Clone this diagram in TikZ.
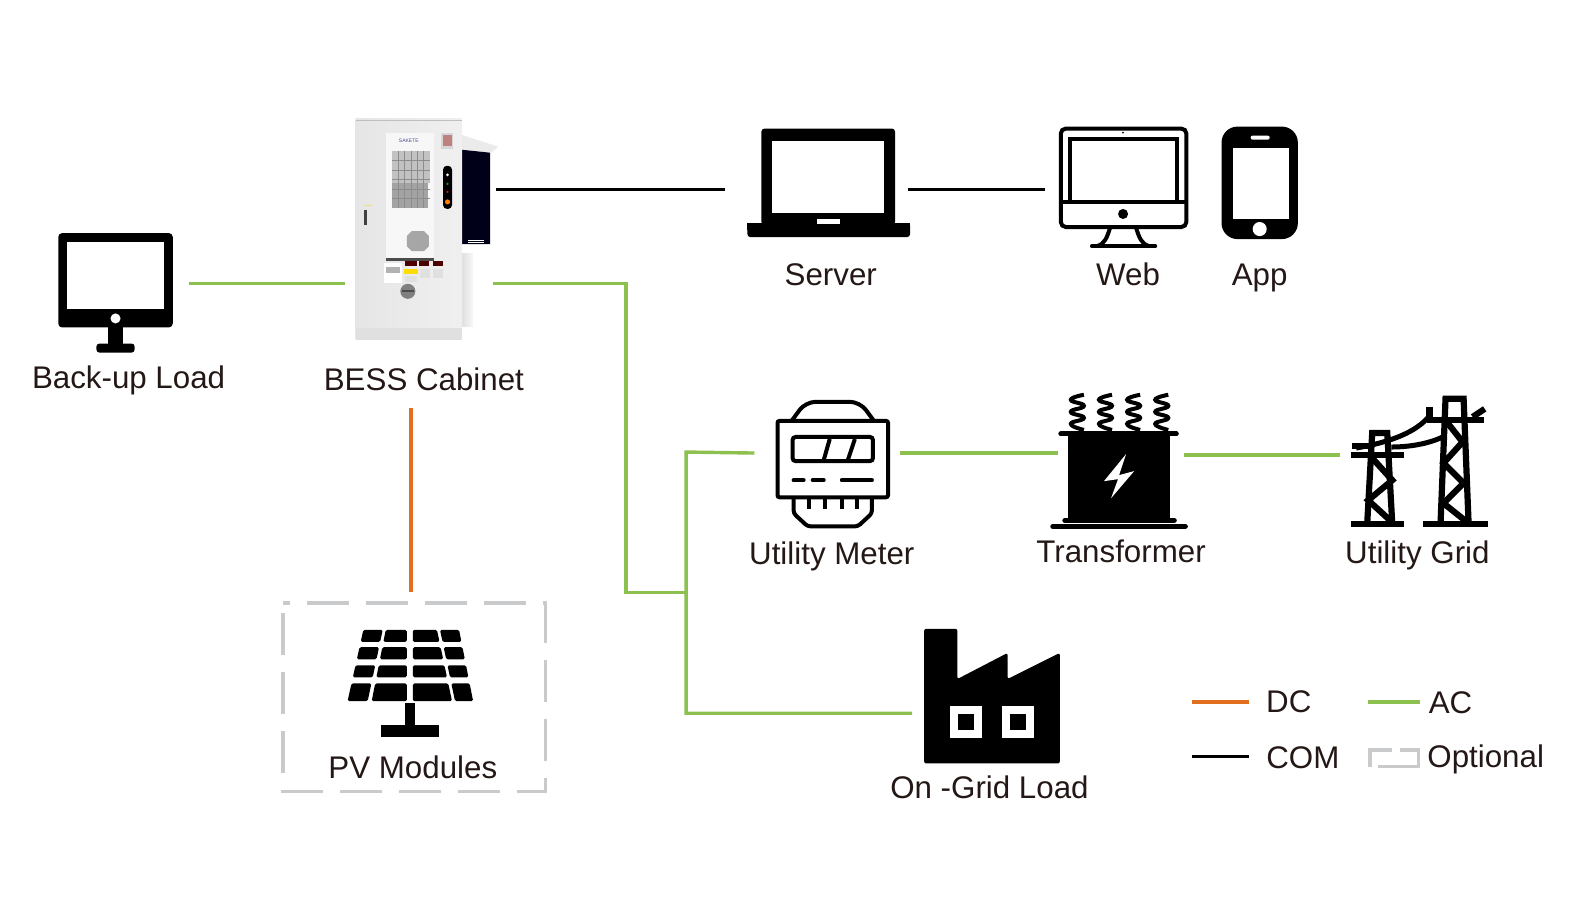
\documentclass[tikz,border=0pt]{standalone}
\usepackage{fontspec}
\setmainfont{Liberation Sans}
\usepackage{amsmath}
\definecolor{acgreen}{HTML}{8CC04F}
\definecolor{dcorange}{HTML}{E0701F}
\definecolor{optgray}{HTML}{C9CACC}
\definecolor{labelcol}{HTML}{231815}
\tikzset{
	aclink/.style={line width=3.4pt, acgreen},
	dclink/.style={line width=3.4pt, dcorange},
	comlink/.style={line width=3.2pt, black},
	optline/.style={line width=3.8pt, optgray},
	lab/.style={anchor=base, inner sep=0pt, text=labelcol, font=\fontsize{31.3}{36}\selectfont},
	icon/.style={line width=4pt, black},
	tower/.style={line width=6.2pt, black},
}
\begin{document}
\begin{tikzpicture}[x=1.0045pt,y=-1.0045pt]
	\useasboundingbox (0,0) rectangle (1567.9,906.9);
	% connector ends
	\coordinate (bessCom) at (494,189);
	\coordinate (serverIn) at (722,189);
	\coordinate (serverOut) at (904,189);
	\coordinate (webIn) at (1040,189);
	\coordinate (backupIn) at (188,282);
	\coordinate (bessLeft) at (343,282);
	\coordinate (bessRight) at (491,282);
	\coordinate (bend) at (623,590);
	\coordinate (junction) at (683,590);
	\coordinate (meterIn) at (751,451);
	\coordinate (factoryIn) at (908,710);
	\coordinate (meterOut) at (896,451);
	\coordinate (transIn) at (1053,451);
	\coordinate (transOut) at (1179,453);
	\coordinate (gridIn) at (1334,453);
	\coordinate (bessDown) at (409,406);
	\coordinate (pvUp) at (409,589);
	\coordinate (dcA) at (1187,699);
	\coordinate (dcB) at (1243,699);
	\coordinate (acA) at (1362,699);
	\coordinate (acB) at (1414,699);
	\coordinate (comA) at (1187,753);
	\coordinate (comB) at (1243,753);

	\draw [comlink] (bessCom) -- (serverIn);
	\draw [comlink] (serverOut) -- (webIn);
	\draw [aclink] (backupIn) -- (bessLeft);
	\draw [aclink] (bessRight) -| (bend) -- (junction);
	\draw [aclink] (meterIn) -- (683,450) -- (junction) |- (factoryIn);
	\draw [aclink] (meterOut) -- (transIn);
	\draw [aclink] (transOut) -- (gridIn);
	\draw [dclink] (bessDown) -- (pvUp);

	% back-up load
	\fill [rounded corners=4pt] (58,232) rectangle (172,326);
	\fill [white] (67,241) rectangle (163,308);
	\fill [white] (115,317) circle (5);
	\fill (108,326) rectangle (122,345);
	\fill [rounded corners=3pt] (96,342) rectangle (134,351);

	% cabinet
	\fill [left color=black!12, right color=black!3] (460,252) rectangle (471,325);
	\fill [black!8] (459,134) -- (496,146) -- (489,152) -- (459,149) -- cycle;
	\fill [black!90!blue] (459,149) -- (488,152) -- (488,243) -- (459,243) -- cycle;
	\foreach \y in {239,241}{
		\draw [white, thin] (466,\y) -- (482,\y);
	}
	\draw [black!30] (364,118) arc (180:0:2.5);
	\draw [black!30] (447,118) arc (180:0:2.5);
	\fill [left color=black!10, right color=black!6] (354,118) rectangle (460,338);
	\fill [black!12] (354,327) rectangle (460,338);
	\draw [black!25, thin] (354,120) -- (460,120);
	\fill [black!3] (384,132) rectangle (432,257);
	\fill [black!24] (390,150) rectangle (428,182);
	\fill [black!36] (390,182) rectangle (426,207);
	\foreach \i in {1,...,5}{
		\draw [black!45, ultra thin] (390+6.3*\i,150) -- (390+6.3*\i,207);
		\draw [black!45, ultra thin] (390,150+9.5*\i) -- (428,150+9.5*\i);
	}
	\node (logo) at (407,140) [inner sep=0pt, text=blue!40!black!70, font=\fontsize{5}{6}\selectfont] {SAKETE};
	\fill [black!35] (410,230) -- (422,230) -- (427,235) -- (427,245) -- (422,250) -- (410,250) -- (405,245) -- (405,235) -- cycle;
	\fill [black!70] (384,257) rectangle (432,260);
	\fill [black!16] (439,132) rectangle (451,148);
	\fill [red!50!black!50!white] (441,134) rectangle (450,145);
	\fill [black, rounded corners=4pt] (441,165) rectangle (450,208);
	\fill [white] (445.5,174) circle (1.5);
	\fill [green!70!black] (445.5,183) circle (1.2);
	\fill [red] (445.5,191) circle (1.2);
	\fill [orange] (445.5,201) circle (2.5);
	\fill [black!75] (362,209) rectangle (365,224);
	\draw [yellow!70!orange] (363,205) -- (370,204);
	\fill [white] (382,262) rectangle (400,282);
	\fill [black!30] (384,266) rectangle (398,272);
	\fill [yellow!80!orange] (402,268) rectangle (416,273);
	\fill [red!30!black] (403,260) rectangle (415,265);
	\fill [red!30!black] (417,260) rectangle (427,265);
	\fill [red!30!black] (431,260) rectangle (441,265);
	\fill [black!12] (403,275) rectangle (415,281);
	\fill [black!12] (418,268) rectangle (428,277);
	\fill [black!12] (431,268) rectangle (441,277);
	\fill [black!50] (406,290) circle (7.5);
	\fill [black!70] (400,289) rectangle (412,291);

	% server
	\fill [rounded corners=3pt] (758,128) rectangle (891,224);
	\fill [white] (769,140) rectangle (880,212);
	\fill [rounded corners=3pt] (744,222) rectangle (906,236);
	\fill (744,222) rectangle (906,229);
	\fill [white] (813,218) rectangle (836,223);

	% web
	\draw [icon, rounded corners=5pt] (1056,128) rectangle (1181,226);
	\draw [icon] (1065,138) rectangle (1172,201);
	\draw [icon] (1056,201) -- (1181,201);
	\fill (1118,213) circle (5);
	\fill (1118,132) circle (1);
	\draw [icon] (1105,227) .. controls (1102,236) and (1100,243) .. (1092,245);
	\draw [icon] (1131,227) .. controls (1134,236) and (1136,243) .. (1144,245);
	\draw [icon, line cap=round] (1087,245) -- (1150,245);

	% app
	\fill [rounded corners=16pt] (1216,126) rectangle (1292,238);
	\fill [white] (1227,147) rectangle (1283,218);
	\fill [white, rounded corners=2pt] (1245,135) rectangle (1264,139);
	\fill [white] (1254,228) circle (7);

	% meter
	\draw [icon, rounded corners=2pt] (774,419) rectangle (884,495);
	\draw [icon, rounded corners=10pt] (788,419) -- (802,400) -- (856,400) -- (870,419);
	\draw [icon, rounded corners=3pt] (789,435) rectangle (869,459);
	\draw [icon] (826,437) -- (820,458);
	\draw [icon] (851,437) -- (844,458);
	\draw [icon, line cap=round] (790,478) -- (800,478);
	\draw [icon, line cap=round] (809,478) -- (820,478);
	\draw [icon, line cap=round] (838,478) -- (868,478);
	\draw [icon, rounded corners=3pt] (790,495) -- (790,511) -- (804,524) -- (854,524) -- (868,511) -- (868,495);
	\foreach \x in {805,821,838,853}{
		\draw [icon] (\x,495) -- (\x,507);
	}

	% transformer
	\fill (1063,431) rectangle (1165,520);
	\draw [line width=5pt, line cap=round] (1056,432) -- (1171,432);
	\draw [line width=5pt, line cap=round] (1060,518) -- (1169,518);
	\draw [line width=5pt, line cap=round] (1048,524) -- (1180,524);
	\foreach \x in {1072,1100,1128,1156}{
		\draw [line width=4pt] plot [smooth, tension=0.9] coordinates {(\x+7,393) (\x-6,398) (\x+7,404) (\x-6,410) (\x+7,416) (\x-6,422) (\x+7,428)};
	}
	\fill [white] (1121,452) -- (1099,479) -- (1113,477) -- (1106,496) -- (1129,469) -- (1114,473) -- cycle;

	% utility grid
	\draw [tower] (1345,522) -- (1398,522);
	\draw [tower] (1361,522) -- (1366,431) -- (1381,431) -- (1386,522);
	\draw [tower] (1345,453) -- (1398,453);
	\draw [tower] (1346,444) -- (1368,444);
	\draw [tower] (1366,456) -- (1386,478) -- (1362,498) -- (1386,520);
	\draw [tower] (1417,522) -- (1481,522);
	\draw [tower] (1434,522) -- (1439,397) -- (1457,397) -- (1462,522);
	\draw [tower] (1421,418) -- (1477,418);
	\draw [tower] (1466,415) -- (1478,407);
	\draw [tower] (1423,405) -- (1423,416);
	\draw [tower] (1441,421) -- (1456,440) -- (1437,461) -- (1457,481) -- (1437,501) -- (1462,521);
	\draw [line width=5pt] (1350,446) .. controls (1385,440) and (1410,430) .. (1423,414);
	\draw [line width=5pt] (1385,445) .. controls (1405,445) and (1425,441) .. (1438,434);

	% on-grid load
	\fill [rounded corners=2pt] (920,626) -- (953,626) -- (953,676) -- (1003,650) -- (1003,676) -- (1055,650) -- (1055,760) -- (920,760) -- cycle;
	\foreach \x in {946,997}{
		\draw [white, line width=8pt] (\x+4,707) rectangle (\x+28,731);
	}

	% pv modules
	\draw [optline, dash pattern=on 42pt off 17pt, dash phase=35pt] (282,600) -- (543,600) -- (543,788) -- (282,788) -- cycle;
	\foreach \ya/\yb in {627/639, 644.3/656.3, 662.3/674.3, 680.3/698}{
		\foreach \ta/\tb/\ba/\bb in {-46.3/-27/-62/-42, -24/-3/-38/-3, 3/27/3/42, 30/49/45/63}{
			\fill [rounded corners=1.5pt] ({408+\ta+(\ba-\ta)*(\ya-627)/71},\ya) -- ({408+\tb+(\bb-\tb)*(\ya-627)/71},\ya) -- ({408+\tb+(\bb-\tb)*(\yb-627)/71},\yb) -- ({408+\ta+(\ba-\ta)*(\yb-627)/71},\yb) -- cycle;
		}
	}
	\fill (403,700) rectangle (413,722);
	\fill (379,722) rectangle (437,734);

	% labels
	\node (backupLab) at (128,387) [lab] {Back-up Load};
	\node (bessLab) at (422,389) [lab] {BESS Cabinet};
	\node (serverLab) at (827,284) [lab] {Server};
	\node (webLab) at (1123,284) [lab] {Web};
	\node (appLab) at (1254,284) [lab] {App};
	\node (meterLab) at (828,562) [lab] {Utility Meter};
	\node (transLab) at (1116,560) [lab] {Transformer};
	\node (gridLab) at (1411,561) [lab] {Utility Grid};
	\node (pvLab) at (411,775) [lab] {PV Modules};
	\node (factoryLab) at (985,795) [lab] {On -Grid Load};

	% legend
	\draw [dclink] (dcA) -- (dcB);
	\draw [aclink] (acA) -- (acB);
	\draw [comlink] (comA) -- (comB);
	\draw [optline] (1364,764) -- (1364,747) -- (1386,747);
	\draw [optline] (1394,747) -- (1412,747) -- (1412,763) -- (1372,763);
	\node (dcLab) at (1283,709) [lab] {DC};
	\node (acLab) at (1444,710) [lab] {AC};
	\node (comLab) at (1297,765) [lab] {COM};
	\node (optLab) at (1479,764) [lab] {Optional};
\end{tikzpicture}
\end{document}
